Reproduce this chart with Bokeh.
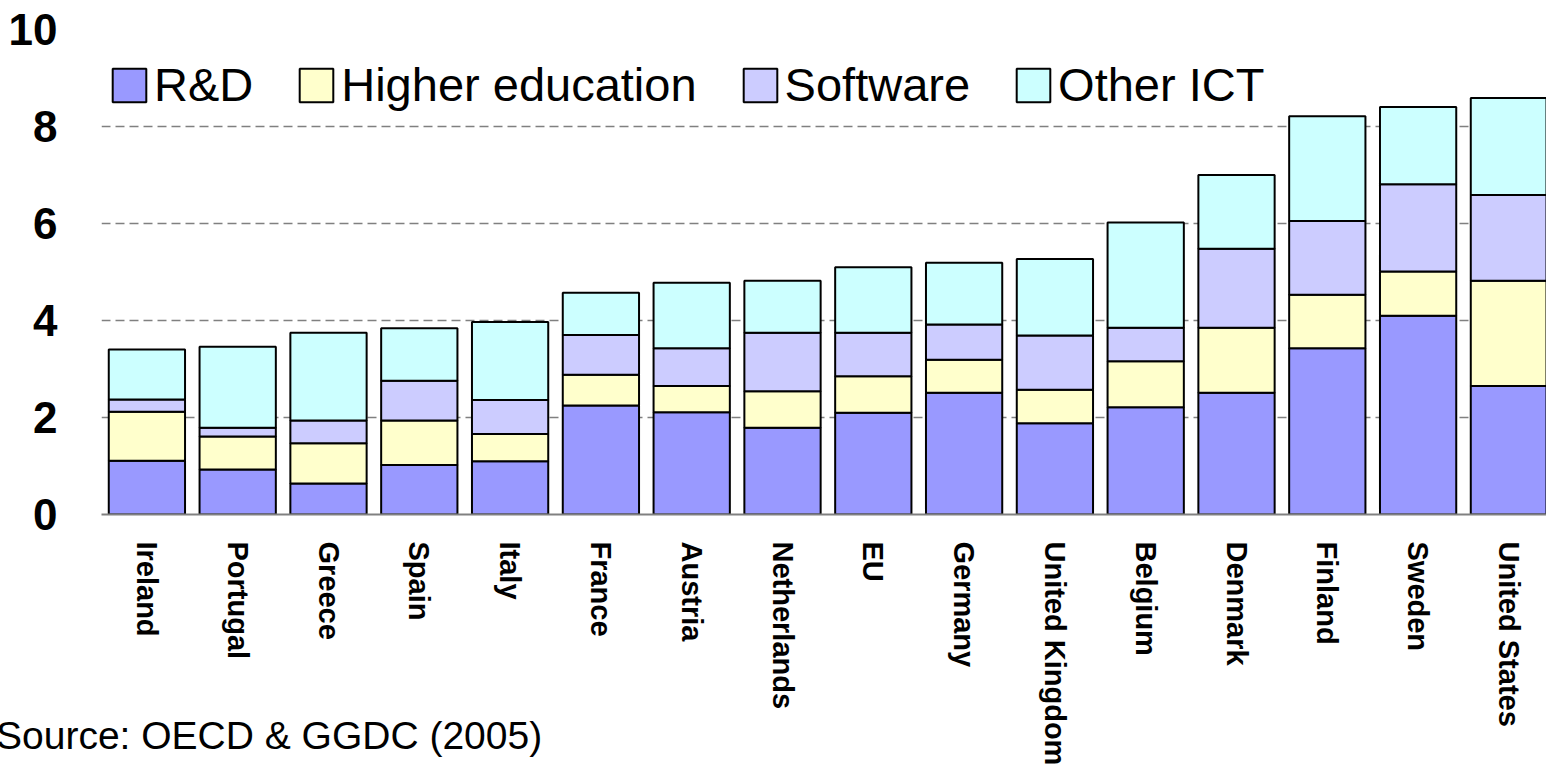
from bokeh.plotting import figure
from bokeh.models import ColumnDataSource, FixedTicker, Range1d, Legend, Div
from bokeh.layouts import column
from bokeh.embed import file_html
from bokeh.resources import INLINE

countries = ["Ireland", "Portugal", "Greece", "Spain", "Italy", "France", "Austria",
             "Netherlands", "EU", "Germany", "United Kingdom", "Belgium", "Denmark",
             "Finland", "Sweden", "United States"]
# cumulative tops
rd_top = [1.11, 0.93, 0.64, 1.02, 1.10, 2.25, 2.11, 1.79, 2.10, 2.51, 1.88, 2.21, 2.51, 3.43, 4.10, 2.65]
he_top = [2.12, 1.61, 1.47, 1.94, 1.66, 2.88, 2.65, 2.54, 2.85, 3.19, 2.57, 3.16, 3.85, 4.53, 5.01, 4.82]
sw_top = [2.37, 1.79, 1.94, 2.76, 2.36, 3.70, 3.43, 3.75, 3.75, 3.92, 3.69, 3.85, 5.48, 6.05, 6.81, 6.59]
total = [3.40, 3.46, 3.75, 3.84, 3.97, 4.57, 4.78, 4.82, 5.10, 5.19, 5.27, 6.02, 7.00, 8.21, 8.40, 8.59]

rd = [round(a, 2) for a in rd_top]
he = [round(b - a, 2) for a, b in zip(rd_top, he_top)]
sw = [round(c - b, 2) for b, c in zip(he_top, sw_top)]
oict = [round(d - c, 2) for c, d in zip(sw_top, total)]

series = ["R&D", "Higher education", "Software", "Other ICT"]
colors = ["#9999FF", "#FFFFCC", "#CCCCFF", "#CCFFFF"]
y_ticks = [0, 2, 4, 6, 8, 10]
source_note = "Source: OECD &amp; GGDC (2005)"

xs = list(range(1, len(countries) + 1))
source = ColumnDataSource(data=dict(x=xs, rd=rd, he=he, sw=sw, oict=oict))

chart = figure(frame_width=1445, frame_height=485, output_backend="svg", toolbar_location=None,
               x_range=Range1d(0.5, 16.414), y_range=Range1d(0, 10),
               min_border_left=101, min_border_right=0, min_border_top=29, min_border_bottom=264)
chart.outline_line_color = None
chart.background_fill_color = "white"
chart.border_fill_color = "white"

renderers = chart.vbar_stack(["rd", "he", "sw", "oict"], x="x", width=0.84, source=source,
                             fill_color=colors, line_color="black", line_width=2)

chart.xgrid.visible = False
chart.ygrid.ticker = FixedTicker(ticks=y_ticks)
chart.ygrid.grid_line_color = "#808080"
chart.ygrid.grid_line_width = 1.6
chart.ygrid.grid_line_dash = "9 5"

chart.yaxis.ticker = FixedTicker(ticks=y_ticks)
chart.yaxis.axis_line_color = None
chart.yaxis.major_tick_line_color = None
chart.yaxis.minor_tick_line_color = None
chart.yaxis.major_tick_out = 0
chart.yaxis.minor_tick_out = 0
chart.yaxis.major_label_standoff = 44
chart.yaxis.major_label_text_font = "Liberation Sans"
chart.yaxis.major_label_text_font_style = "bold"
chart.yaxis.major_label_text_font_size = "44px"
chart.yaxis.major_label_text_color = "black"

chart.xaxis.ticker = FixedTicker(ticks=xs)
chart.xaxis.major_label_overrides = {i: c for i, c in zip(xs, countries)}
chart.xaxis.major_label_orientation = "vertical"
chart.xaxis.axis_line_color = "#808080"
chart.xaxis.axis_line_width = 2
chart.xaxis.major_tick_line_color = None
chart.xaxis.minor_tick_line_color = None
chart.xaxis.major_tick_out = 0
chart.xaxis.minor_tick_out = 0
chart.xaxis.major_label_standoff = 27
chart.xaxis.major_label_text_font = "Liberation Sans"
chart.xaxis.major_label_text_font_style = "bold"
chart.xaxis.major_label_text_font_size = "29px"
chart.xaxis.major_label_text_color = "black"

legend = Legend(items=[(s, [r]) for s, r in zip(series, renderers)],
                orientation="horizontal", location=(7, 402),
                border_line_color=None, background_fill_alpha=0,
                glyph_width=42, glyph_height=42, label_standoff=4, spacing=42,
                padding=0, margin=0,
                label_text_font="Liberation Sans", label_text_font_size="47px",
                label_text_color="black")
chart.add_layout(legend, "center")

note = Div(text=source_note, width=600,
           styles={"font-family": "Liberation Sans", "font-size": "39px", "color": "black",
                   "margin-top": "-64px", "margin-left": "-4px",
                   "white-space": "nowrap", "line-height": "44px"})

p = column(chart, note, spacing=0)

open("out.html", "w").write(file_html(p, INLINE))
